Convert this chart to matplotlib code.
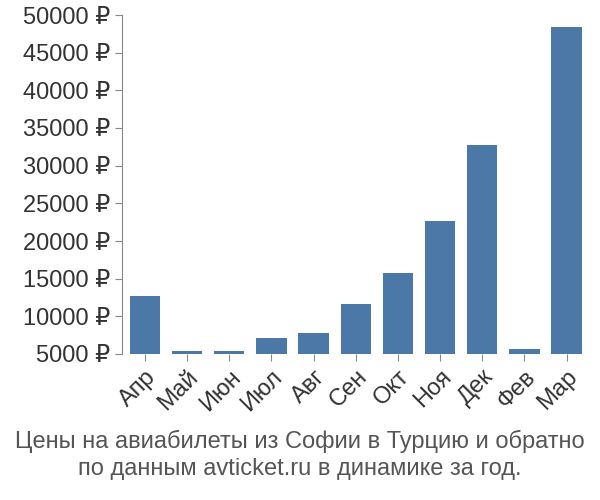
import matplotlib
matplotlib.use("Agg")
import matplotlib.pyplot as plt

months = ["Апр","Май","Июн","Июл","Авг","Сен","Окт","Ноя","Дек","Фев","Мар"]
prices = [12700, 5400, 5400, 7100, 7800, 11700, 15700, 22600, 32700, 5600, 48400]
yticks = list(range(5000, 50001, 5000))

plt.rcParams['font.family'] = ['Liberation Sans', 'DejaVu Sans']
fig = plt.figure(figsize=(6, 5), dpi=100)
ax = fig.add_axes([0.203, 0.292, 0.78, 0.678])
ax.bar(range(len(months)), [p - 5000 for p in prices], bottom=5000, width=0.72, color="#4c78a8")
ax.set_ylim(5000, 50000)
ax.set_xlim(-0.55, len(months) - 0.45)
ax.set_yticks(yticks)
ax.set_yticklabels([f"{v} ₽" for v in yticks], fontsize=17, color="#333333")
ax.set_xticks(range(len(months)))
ax.set_xticklabels(months, rotation=45, ha="right", rotation_mode="anchor", fontsize=17, color="#333333")
for s in ["top", "right", "bottom"]:
    ax.spines[s].set_visible(False)
ax.spines["left"].set_color("#888888")
ax.tick_params(axis="both", color="#888888", length=5)
fig.text(0.5, 0.09, "Цены на авиабилеты из Софии в Турцию и обратно\nпо данным avticket.ru в динамике за год.",
         ha="center", va="center", fontsize=17, color="#555555", linespacing=1.25)
fig.savefig("out.png")
